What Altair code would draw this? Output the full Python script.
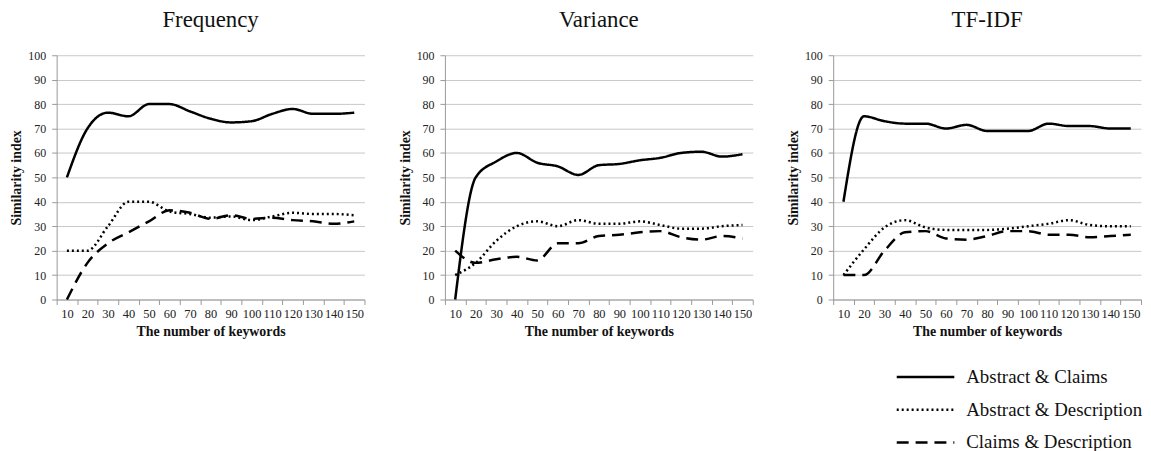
import altair as alt
import pandas as pd

keywords = [10, 20, 30, 40, 50, 60, 70, 80, 90, 100, 110, 120, 130, 140, 150]
series_names = ["Abstract & Claims", "Abstract & Description", "Claims & Description"]
panel_titles = ["Frequency", "Variance", "TF-IDF"]

freq_ac = [50, 70, 76.5, 75, 80, 80, 77, 74, 72.5, 73, 76, 78, 76, 76, 76.5]
freq_ad = [20, 20, 30, 40, 40, 36, 35, 33.5, 34, 32.5, 34, 35.5, 35, 35, 34.5]
freq_cd = [0, 15, 23, 27.5, 32, 36.5, 35.5, 33, 34.5, 33, 33.5, 32.5, 32, 31, 32]

var_ac = [0, 50, 56.5, 60, 56, 54.5, 51, 55, 55.5, 57, 58, 60, 60.5, 58.5, 59.5]
var_ad = [10, 15, 24, 30, 32, 30, 32.5, 31, 31, 32, 30.5, 29, 29, 30, 30.5]
var_cd = [20, 15, 16.5, 17.5, 16, 23, 23, 26, 26.5, 27.5, 28, 25.5, 24.5, 26, 25]

tfidf_ac = [40, 75, 73, 72, 72, 70, 71.5, 69, 69, 69, 72, 71, 71, 70, 70]
tfidf_ad = [10, 20.5, 29.5, 32.5, 29.5, 28.5, 28.5, 28.5, 29, 30, 31, 32.5, 30.5, 30, 30]
tfidf_cd = [10, 10, 20, 27.5, 28, 25, 24.5, 26, 28, 28, 26.5, 26.5, 25.5, 26, 26.5]

panel_data = {
    "Frequency": [freq_ac, freq_ad, freq_cd],
    "Variance": [var_ac, var_ad, var_cd],
    "TF-IDF": [tfidf_ac, tfidf_ad, tfidf_cd],
}

FONT = "Liberation Serif"

legend = alt.Legend(
    title=None, orient="none", legendX=859, legendY=308,
    labelFont=FONT, labelFontSize=19, labelColor="#111",
    symbolType="M-2,0L2,0", symbolSize=841, symbolStrokeWidth=2.5,
    symbolStrokeColor="black", symbolFillColor="transparent",
    rowPadding=7, labelOffset=25, labelLimit=400,
)


def make_panel(title):
    rows = []
    for name, vals in zip(series_names, panel_data[title]):
        for k, v in zip(keywords, vals):
            rows.append({"k": k, "v": v, "series": name})
    df = pd.DataFrame(rows)
    dash_enc = alt.StrokeDash(
        "series:N",
        scale=alt.Scale(domain=series_names, range=[[1, 0], [2, 3], [12, 7]]),
        legend=legend,
    )
    chart = alt.Chart(df).mark_line(
        color="black", strokeWidth=2.5, interpolate="monotone"
    ).encode(
        x=alt.X(
            "k:O",
            bandPosition=0.5,
            scale=alt.Scale(type="band", paddingInner=0, paddingOuter=0),
            sort=keywords,
            axis=alt.Axis(
                title="The number of keywords", titleFont=FONT, titleFontSize=14,
                titleFontWeight="bold", titleColor="#111", titlePadding=5,
                labelFont=FONT, labelFontSize=12.5, labelColor="#222", labelAngle=0,
                labelOverlap=False, labelPadding=3, tickBand="extent", ticks=True,
                tickSize=5, tickColor="#999", domainColor="#999", grid=False,
            ),
        ),
        y=alt.Y(
            "v:Q",
            scale=alt.Scale(domain=[0, 100]),
            axis=alt.Axis(
                title="Similarity index", titleFont=FONT, titleFontSize=14,
                titleFontWeight="bold", titleColor="#111", titlePadding=4,
                labelFont=FONT, labelFontSize=12, labelColor="#222",
                values=list(range(0, 101, 10)), tickSize=5, tickColor="#999",
                domainColor="#999", gridColor="#c8c8c8", labelPadding=6,
            ),
        ),
        strokeDash=dash_enc,
        detail="series:N",
    ).properties(
        width=310, height=246,
        title=alt.TitleParams(
            title, font=FONT, fontSize=23, fontWeight="normal", color="#111",
            offset=17,
        ),
    )
    return chart

charts = [make_panel(t) for t in panel_titles]

chart = alt.hconcat(*charts, spacing=33).properties(
    padding={"left": 2, "top": 0, "right": 0, "bottom": 0}
).configure_view(stroke=None)

chart.save("out.html", embed_options={"renderer": "svg", "actions": False})
